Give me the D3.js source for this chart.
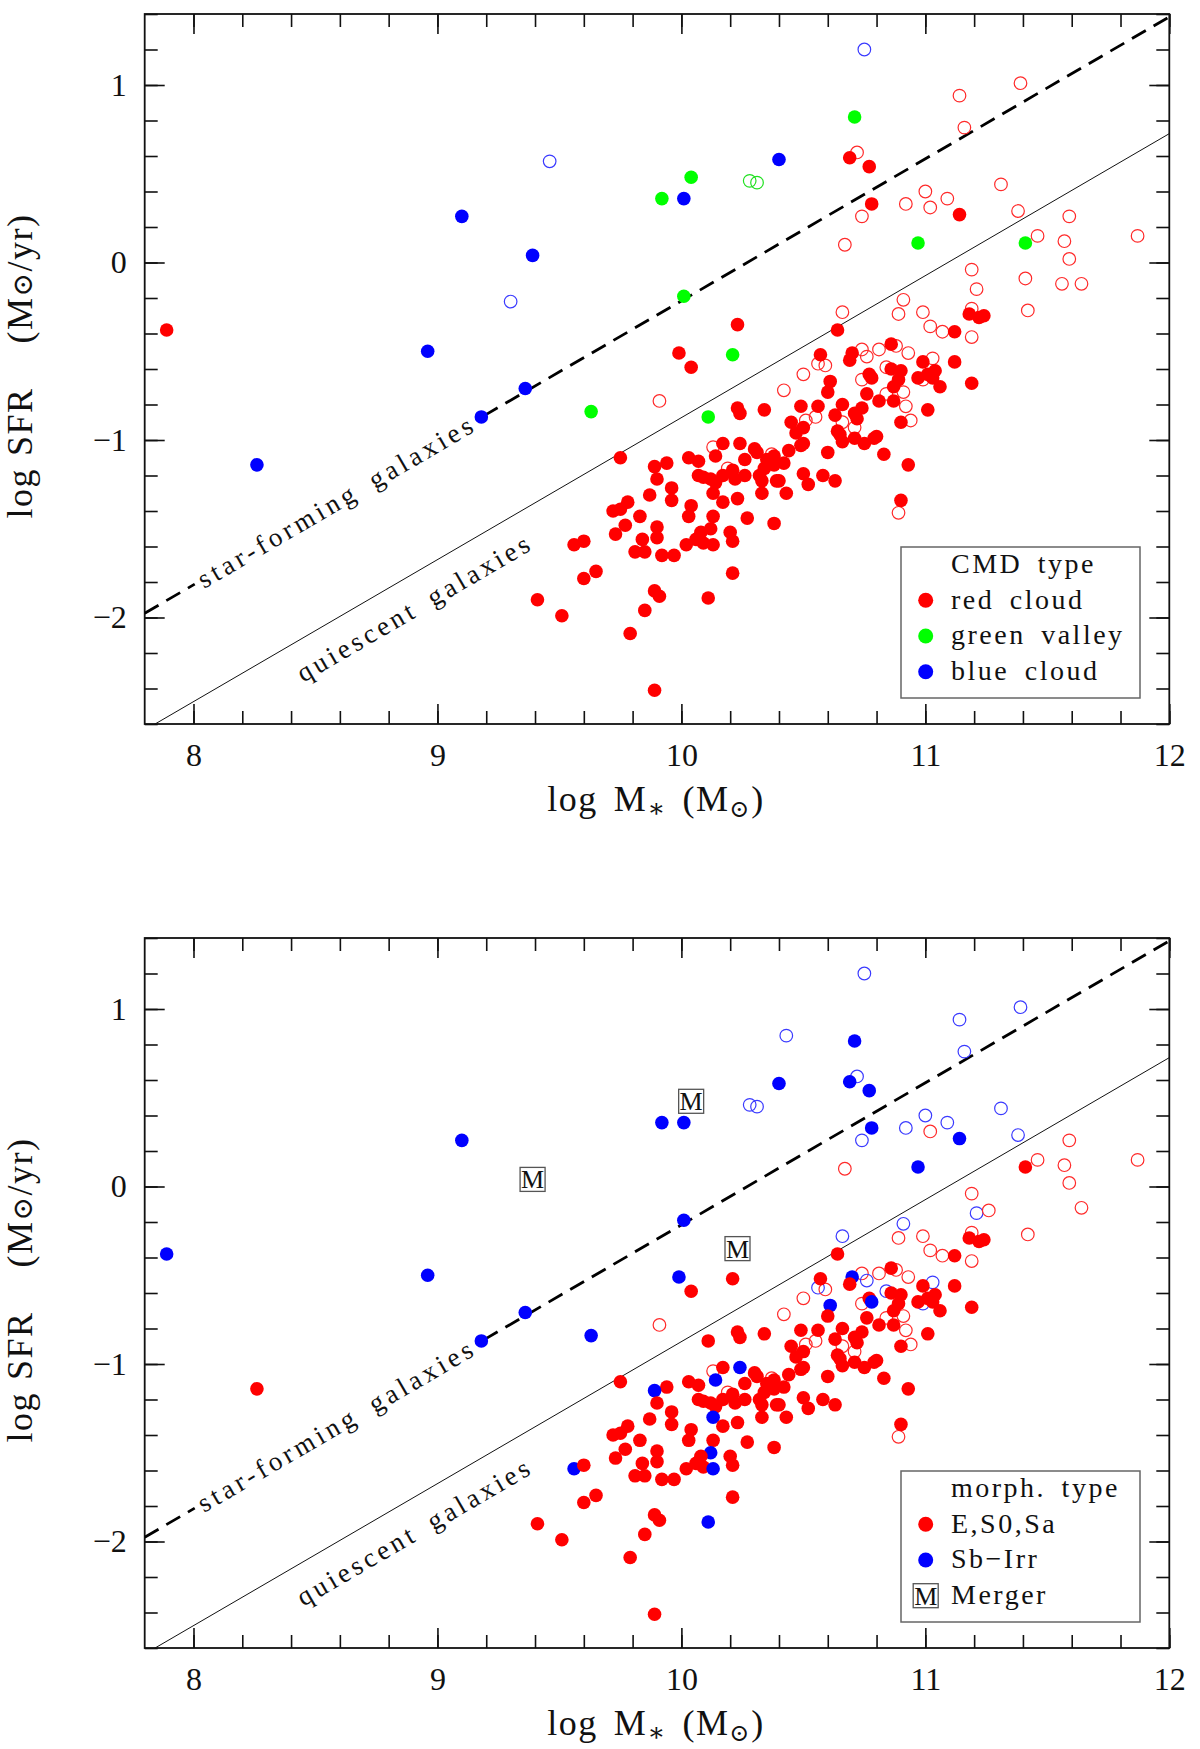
<!DOCTYPE html>
<html>
<head>
<meta charset="utf-8">
<script src="https://cdn.jsdelivr.net/npm/d3@7"></script>
<style>
body { margin: 0; background: #fff; }
svg text { font-family: "Liberation Serif", "DejaVu Serif", serif; fill: #111; }
</style>
</head>
<body>
<svg id="chart" width="1200" height="1749"></svg>
<script>
// galaxies: log stellar mass, log SFR, CMD class (top panel), morphology class (bottom panel)
// codes: r/g/b filled, ro/go/bo open, M merger, "" not plotted
var logMass = [
  7.89, 8.26, 8.96, 9.10, 9.18, 9.36, 9.39, 9.46, 9.30, 9.63,
  9.91, 10.42, 10.11, 10.75, 11.39, 11.14, 11.16, 10.71, 10.72, 10.69,
  10.77, 10.40, 10.04, 9.92, 10.01, 10.28, 10.31, 10.78, 10.74, 10.67,
  10.92, 11.00, 11.02, 11.09, 11.14, 11.31, 11.38, 11.59, 11.46, 11.57,
  11.87, 10.97, 11.41, 11.59, 11.19, 11.41, 11.56, 11.64, 11.21, 11.26,
  10.01, 10.91, 11.42, 10.66, 10.89, 10.99, 11.19, 11.18, 11.22, 11.24,
  10.23, 10.64, 11.02, 11.07, 11.12, 11.19, 9.99, 10.21, 10.04, 10.43,
  10.86, 10.88, 10.74, 10.81, 10.93, 10.76, 10.70, 10.69, 10.57, 10.56,
  10.59, 10.99, 11.03, 11.12, 11.04, 11.01, 11.03, 10.97, 11.19, 10.86,
  10.90, 10.89, 10.87, 10.91, 10.87, 10.84, 10.77, 10.78, 10.74, 10.76,
  10.81, 10.92, 10.61, 10.60, 10.50, 10.49, 10.56, 10.66, 10.74, 10.71,
  10.72, 10.71, 10.63, 10.55, 10.51, 10.45, 10.50, 10.47, 10.50, 10.49,
  10.44, 10.42, 10.40, 10.43, 10.50, 10.52, 10.58, 10.63, 10.60, 10.64,
  10.65, 10.66, 10.71, 10.66, 10.75, 10.79, 10.80, 10.83, 10.90, 10.94,
  11.01, 10.93, 10.90, 10.89, 10.84, 10.99, 11.06,
  10.23, 10.24, 10.34, 9.75, 10.13, 10.17, 10.24, 10.30, 10.14, 10.03,
  10.07, 9.94, 9.89, 10.26, 10.31, 10.38, 10.35, 10.34, 10.38, 10.32,
  10.33, 10.07, 10.09, 10.12, 10.21, 10.17, 10.14, 10.13, 10.17, 10.22,
  10.23, 10.26, 10.33, 10.39, 9.90, 9.96, 9.96, 9.87, 9.78, 9.72,
  9.75, 9.83, 9.77, 9.73, 9.90, 9.90, 9.84, 9.81, 9.85, 9.92,
  9.97, 10.04, 10.03, 10.13, 10.27, 10.38, 10.12, 10.08, 10.06, 10.02,
  10.09, 10.13, 10.20, 10.21, 9.56, 9.60, 9.65, 9.60, 9.41, 9.51,
  9.89, 9.91, 9.85, 9.79, 9.89, 10.11, 10.21, 10.19, 10.37
];
var logSFR = [
  -0.38, -1.14, -0.50, 0.26, -0.87, -0.71, 0.04, 0.57, -0.22, -0.84,
  -0.78, -0.72, -0.87, 1.20, 1.01, 0.94, 0.76, 0.82, 0.62, 0.59,
  0.54, 0.58, 0.48, 0.36, 0.36, 0.46, 0.45, 0.33, 0.26, 0.10,
  0.33, 0.40, 0.31, 0.36, 0.27, 0.44, 0.29, 0.26, 0.15, 0.12,
  0.15, 0.11, 0.11, 0.02, -0.04, -0.09, -0.12, -0.12, -0.15, -0.135,
  -0.19, -0.21, -0.27, -0.28, -0.29, -0.28, -0.26, -0.29, -0.31, -0.30,
  -0.35, -0.38, -0.36, -0.39, -0.39, -0.42, -0.51, -0.52, -0.59, 0.85,
  -0.46, -0.47, -0.49, -0.49, -0.51, -0.53, -0.51, -0.55, -0.52, -0.57,
  -0.58, -0.56, -0.54, -0.56, -0.61, -0.63, -0.65, -0.65, -0.68, -0.60,
  -0.61, -0.66, -0.70, -0.73, -0.78, -0.74, -0.63, -0.65, -0.66, -0.74,
  -0.78, -0.81, -0.67, -0.73, -0.63, -0.81, -0.81, -0.80, -0.82, -0.85,
  -0.88, -0.93, -0.86, -0.87, -0.89, -0.90, -0.93, -0.96, -1.02, -1.03,
  -1.06, -1.13, -1.23, -1.30, -1.19, -1.25, -1.20, -1.23, -1.07, -0.95,
  -0.97, -1.01, -0.99, -0.90, -1.02, -0.99, -0.98, -1.08, -0.90, -0.89,
  -0.83, -1.14, -1.34, -1.41, -0.59, -0.66, -0.70,
  -0.82, -0.85, -0.83, -1.10, -1.04, -1.02, -1.02, -1.05, -1.09, -1.10,
  -1.12, -1.13, -1.15, -1.11, -1.07, -1.09, -1.11, -1.16, -1.14, -1.20,
  -1.23, -1.20, -1.21, -1.22, -1.17, -1.20, -1.24, -1.30, -1.35, -1.22,
  -1.33, -1.20, -1.30, -1.23, -1.22, -1.27, -1.34, -1.31, -1.35, -1.40,
  -1.39, -1.43, -1.48, -1.53, -1.49, -1.55, -1.56, -1.63, -1.63, -1.65,
  -1.65, -1.37, -1.43, -1.43, -1.44, -1.47, -1.50, -1.52, -1.56, -1.59,
  -1.58, -1.59, -1.52, -1.57, -1.59, -1.57, -1.74, -1.78, -1.90, -1.99,
  -1.85, -1.88, -1.96, -2.09, -2.41, -1.89, -1.75, -1.16, -1.08
];
var cmdType = [
  "r","b","b","b","b","b","b","bo","bo","g",
  "ro","ro","g","bo","ro","ro","ro","g","ro","r",
  "r","b","g","g","b","go","go","r","ro","ro",
  "ro","ro","ro","ro","r","ro","ro","ro","ro","ro",
  "ro","g","g","ro","ro","ro","ro","ro","ro","",
  "g","ro","ro","ro","ro","ro","ro","r","r","r",
  "r","r","ro","ro","r","ro","r","g","r","",
  "r","ro","ro","ro","ro","ro","r","r","r","ro",
  "ro","r","ro","r","r","r","r","r","r","r",
  "r","r","r","ro","r","ro","r","r","ro","r",
  "r","ro","r","r","ro","r","r","r","r","r",
  "r","ro","r","ro","ro","r","r","r","r","r",
  "r","r","r","r","r","r","r","r","r","r",
  "r","r","r","ro","r","r","r","r","r","ro",
  "r","r","r","ro","ro","ro","r",
  "r","r","r","r","ro","r","r","r","r","r",
  "r","r","r","r","r","r","r","r","r","r",
  "r","r","r","r","r","r","r","r","r","r",
  "r","r","r","r","r","r","r","r","r","r",
  "r","r","r","r","r","r","r","r","r","r",
  "r","r","r","r","r","r","r","r","r","r",
  "r","r","r","r","r","r","r","r","r","r",
  "r","r","r","r","r","r","r","ro","ro"
];
var morphType = [
  "b","r","b","b","b","b","M","","","b",
  "ro","ro","r","bo","bo","bo","bo","b","bo","b",
  "b","b","M","b","b","bo","bo","b","bo","ro",
  "bo","bo","ro","bo","b","bo","bo","ro","ro","ro",
  "ro","b","r","ro","ro","","","ro","bo","ro",
  "b","bo","ro","bo","ro","ro","ro","r","r","r",
  "M","r","ro","ro","r","ro","b","r","r","bo",
  "r","ro","ro","ro","ro","bo","b","r","r","bo",
  "ro","r","bo","r","r","r","r","r","r","r",
  "r","r","r","ro","r","ro","r","b","ro","r",
  "r","ro","b","r","ro","r","r","r","r","r",
  "r","ro","r","ro","ro","r","r","r","r","r",
  "r","r","r","r","r","r","r","r","r","r",
  "r","r","r","ro","r","r","r","r","r","ro",
  "r","r","r","ro","bo","bo","r",
  "r","r","r","r","ro","r","b","r","b","r",
  "r","r","b","r","r","r","r","r","r","r",
  "r","r","r","r","r","r","r","b","r","r",
  "r","r","r","r","r","r","r","r","r","r",
  "r","r","r","r","r","r","r","r","r","r",
  "r","r","r","r","r","r","b","r","r","r",
  "r","b","r","r","b","r","r","r","r","r",
  "r","r","r","r","r","b","r","ro","ro"
];

// axis ranges and ticks
var massRange = [7.8, 12];
var sfrRange = [-2.6, 1.4];
var massMajor = [8, 9, 10, 11, 12];
var sfrMajor = [-2, -1, 0, 1];

// dividing lines: log SFR = slope * log M + intercept
var lineSlope = 0.8;
var sfIntercept = -8.216;
var qIntercept = -8.874;
var sfGap = [8.005, 9.19];   // dashed line broken by its label

var cmdLegendTitle = "CMD type";
var cmdLegendKeys = ["r", "g", "b"];
var cmdLegendText = ["red cloud", "green valley", "blue cloud"];
var morphLegendTitle = "morph. type";
var morphLegendKeys = ["r", "b", "M"];
var morphLegendText = ["E,S0,Sa", "Sb\u2212Irr", "Merger"];

var colors = { r: "#ff0000", g: "#00ff00", b: "#0000ff" };
var openColors = { r: "#ff2a2a", g: "#20e020", b: "#3a3aff" };

var svg = d3.select("#chart");
var plotLeft = 144.7, plotRight = 1169.3, plotH = 710;
var x = d3.scaleLinear().domain(massRange).range([plotLeft, plotRight]);
var fmt = function(d) { return d < 0 ? "\u2212" + (-d) : "" + d; };

function drawMarker(sel, code, px, py, r) {
    if (code == "M") {
        sel.append("rect").attr("x", px - 12.5).attr("y", py - 12)
           .attr("width", 25).attr("height", 24)
           .attr("fill", "#fff").attr("stroke", "#555").attr("stroke-width", 1.3);
        sel.append("text").attr("x", px).attr("y", py + 9)
           .attr("text-anchor", "middle").attr("font-size", 26).text("M");
        return;
    }
    var c = code.charAt(0);
    if (code.length == 2) {
        sel.append("circle").attr("cx", px).attr("cy", py).attr("r", r - 0.5)
           .attr("fill", "none").attr("stroke", openColors[c]).attr("stroke-width", 1.2);
    } else {
        sel.append("circle").attr("cx", px).attr("cy", py).attr("r", r)
           .attr("fill", colors[c]);
    }
}

function drawPanel(top, types, legTitle, legKeys, legText, clipId) {
    var y = d3.scaleLinear().domain(sfrRange).range([top + plotH, top]);
    var g = svg.append("g");

    g.append("clipPath").attr("id", clipId).append("rect")
     .attr("x", plotLeft).attr("y", top).attr("width", plotRight - plotLeft).attr("height", plotH);

    var minorX = d3.range(40, 61).map(function(d) { return d / 5; });
    var minorY = d3.range(-13, 8).map(function(d) { return d / 5; });

    function tickAxis(axis, vals, size, tr, labels, pad) {
        var a = axis.tickValues(vals).tickSizeInner(-size).tickSizeOuter(0);
        if (labels) a.tickPadding(pad).tickFormat(fmt); else a.tickFormat("");
        var ag = g.append("g").attr("transform", tr).call(a);
        ag.select(".domain").remove();
        ag.selectAll("line").attr("stroke", "#111").attr("stroke-width", 1.6);
        ag.selectAll("text").attr("font-family", "Liberation Serif").attr("font-size", 32).attr("fill", "#111");
        return ag;
    }
    var bTr = "translate(0," + (top + plotH) + ")";
    tickAxis(d3.axisBottom(x), minorX, 13, bTr, false);
    tickAxis(d3.axisBottom(x), massMajor, 20, bTr, true, 19);
    tickAxis(d3.axisTop(x), minorX, 13, "translate(0," + top + ")", false);
    tickAxis(d3.axisTop(x), massMajor, 20, "translate(0," + top + ")", false);
    tickAxis(d3.axisLeft(y), minorY, 13, "translate(" + plotLeft + ",0)", false);
    tickAxis(d3.axisLeft(y), sfrMajor, 20, "translate(" + plotLeft + ",0)", true, 18);
    tickAxis(d3.axisRight(y), minorY, 13, "translate(" + plotRight + ",0)", false);
    tickAxis(d3.axisRight(y), sfrMajor, 20, "translate(" + plotRight + ",0)", false);

    g.append("rect").attr("x", plotLeft).attr("y", top)
     .attr("width", plotRight - plotLeft).attr("height", plotH)
     .attr("fill", "none").attr("stroke", "#111").attr("stroke-width", 1.8);

    // lines
    var lines = g.append("g").attr("clip-path", "url(#" + clipId + ")");
    var ln = d3.line().x(function(d) { return x(d); });
    var segs = [[massRange[0], sfGap[0]], [sfGap[1], massRange[1]]];
    segs.forEach(function(s) {
        lines.append("path").datum(s)
             .attr("d", ln.y(function(d) { return y(lineSlope * d + sfIntercept); }))
             .attr("fill", "none").attr("stroke", "#000").attr("stroke-width", 2.8)
             .attr("stroke-dasharray", "16,9");
    });
    lines.append("path").datum(massRange)
         .attr("d", ln.y(function(d) { return y(lineSlope * d + qIntercept); }))
         .attr("fill", "none").attr("stroke", "#111").attr("stroke-width", 1);

    var ang = -Math.atan(lineSlope * (plotH / (sfrRange[1] - sfrRange[0])) /
                         ((plotRight - plotLeft) / (massRange[1] - massRange[0]))) * 180 / Math.PI;
    var sx = sfGap[0] + 0.02;
    g.append("text")
     .attr("transform", "translate(" + x(sx) + "," + y(lineSlope * sx + sfIntercept) + ") rotate(" + ang + ")")
     .attr("dy", "0.33em").attr("font-family", "DejaVu Sans").attr("font-size", 27)
     .attr("letter-spacing", 3.9).attr("word-spacing", 6).text("star-forming galaxies");
    var qx = 8.37;
    g.append("text")
     .attr("transform", "translate(" + x(qx) + "," + y(lineSlope * qx + qIntercept) + ") rotate(" + ang + ")")
     .attr("y", 39).attr("font-family", "DejaVu Sans").attr("font-size", 27)
     .attr("letter-spacing", 3.6).attr("word-spacing", 6).text("quiescent galaxies");

    // points: open symbols first, filled on top
    var pts = g.append("g").attr("clip-path", "url(#" + clipId + ")");
    var idx = d3.range(logMass.length).filter(function(i) { return types[i] != ""; });
    idx.sort(function(a, b) { return (types[a].length == 2 ? 0 : 1) - (types[b].length == 2 ? 0 : 1); });
    idx.forEach(function(i) {
        drawMarker(pts, types[i], x(logMass[i]), y(logSFR[i]), 6.8);
    });

    // axis titles
    var xt = g.append("text").attr("x", 656).attr("y", top + 797)
              .attr("text-anchor", "middle").attr("font-size", 36).attr("letter-spacing", 1.5);
    xt.append("tspan").text("log");
    xt.append("tspan").attr("dx", 16).text("M");
    xt.append("tspan").attr("dy", 6).attr("font-size", 26).text("\u2217");
    xt.append("tspan").attr("dy", -6).attr("dx", 16).text("(M");
    xt.append("tspan").attr("dy", 6).attr("font-size", 24).attr("font-family", "DejaVu Serif").text("\u2299");
    xt.append("tspan").attr("dy", -6).text(")");

    var yt = g.append("text").attr("transform", "translate(32," + (top + 352) + ") rotate(-90)")
              .attr("text-anchor", "middle").attr("font-size", 36).attr("letter-spacing", 1.5);
    yt.append("tspan").text("log");
    yt.append("tspan").attr("dx", 12).text("SFR");
    yt.append("tspan").attr("dx", 44).text("(M");
    yt.append("tspan").attr("font-size", 28).attr("font-family", "DejaVu Serif").text("\u2299");
    yt.append("tspan").text("/yr)");

    // legend
    var lg = g.append("g");
    lg.append("rect").attr("x", 901).attr("y", top + 533).attr("width", 239).attr("height", 151)
      .attr("fill", "#fff").attr("stroke", "#666").attr("stroke-width", 1.5);
    var lt = function(s, yy) {
        lg.append("text").attr("x", 951).attr("y", yy).attr("font-size", 28)
          .attr("letter-spacing", 2.5).attr("word-spacing", 6).text(s);
    };
    lt(legTitle, top + 559);
    legKeys.forEach(function(k, i) {
        var by = top + 594.7 + i * 35.7;
        drawMarker(lg, k, 925.7, by - 8.4, 7.5);
        lt(legText[i], by);
    });
}

drawPanel(14, cmdType, cmdLegendTitle, cmdLegendKeys, cmdLegendText, "clipTop");
drawPanel(938, morphType, morphLegendTitle, morphLegendKeys, morphLegendText, "clipBottom");
</script>
</body>
</html>
